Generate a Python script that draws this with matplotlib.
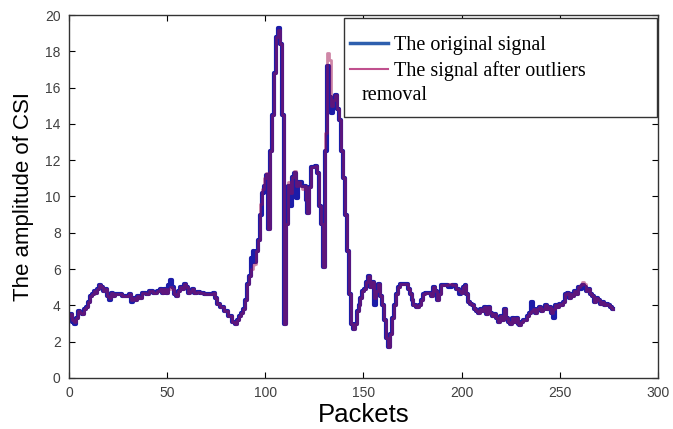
import matplotlib
matplotlib.use("Agg")
import matplotlib.pyplot as plt
from matplotlib.patches import Rectangle

packets = [0, 1, 2, 3, 4, 5, 6, 7, 8, 9, 10, 11, 12, 13, 14, 15, 16, 17, 18, 19,
           20, 21, 22, 23, 24, 26, 28, 30, 31, 32, 33, 34, 35, 36, 38, 40, 42, 44,
           46, 47, 48, 49, 50, 51, 52, 53, 54, 55, 56, 57, 58, 59, 60, 61, 62, 63,
           64, 66, 68, 70, 72, 73, 74, 75, 76, 78, 80, 82, 84, 85, 86, 87, 88, 89,
           90, 91, 92, 93, 94, 95, 96, 97, 98, 99, 100, 101, 102, 103, 104, 105,
           106, 107, 108, 109, 110, 111, 112, 113, 114, 115, 116, 117, 118, 119,
           120, 121, 122, 123, 124, 125, 126, 127, 128, 129, 130, 131, 132, 133,
           134, 135, 136, 137, 138, 139, 140, 141, 142, 143, 144, 145, 146, 147,
           148, 149, 150, 151, 152, 153, 154, 155, 156, 157, 158, 159, 160, 161,
           162, 163, 164, 165, 166, 167, 168, 169, 170, 172, 173, 174, 175, 176,
           178, 179, 180, 181, 182, 184, 185, 186, 187, 188, 189, 190, 192, 194,
           196, 198, 199, 200, 201, 202, 203, 204, 205, 206, 207, 208, 209, 210,
           211, 212, 213, 214, 215, 216, 217, 218, 219, 220, 221, 222, 223, 224,
           225, 226, 227, 228, 229, 230, 231, 232, 233, 234, 235, 236, 237, 238,
           239, 240, 241, 242, 243, 244, 245, 246, 247, 248, 249, 250, 251, 252,
           253, 254, 255, 256, 257, 258, 259, 260, 261, 262, 263, 264, 265, 266,
           267, 268, 269, 270, 271, 272, 273, 274, 275, 276, 277]

original = [3.4, 3.5, 3.1, 3.0, 3.3, 3.7, 3.6, 3.5, 3.8, 3.9, 4.2, 4.5, 4.6, 4.8, 4.7,
            4.9, 5.1, 5.0, 4.8, 4.9, 4.5, 4.3, 4.7, 4.5, 4.6, 4.6, 4.5, 4.5, 4.6, 4.2,
            4.4, 4.3, 4.5, 4.4, 4.7, 4.6, 4.8, 4.7, 4.8, 4.9, 4.7, 4.9, 4.7, 5.1, 5.4,
            5.0, 4.6, 4.5, 4.8, 5.0, 4.9, 5.2, 5.0, 4.7, 4.8, 4.9, 4.7, 4.75, 4.7, 4.6,
            4.65, 4.6, 4.7, 4.4, 4.1, 3.9, 3.7, 3.4, 3.1, 3.0, 3.2, 3.4, 3.6, 3.8, 4.3,
            5.2, 5.6, 6.6, 7.0, 6.4, 7.0, 7.6, 9.0, 10.2, 10.6, 11.2, 8.2, 12.5, 14.5,
            16.8, 18.8, 19.3, 18.4, 14.5, 3.0, 8.5, 10.6, 9.5, 11.1, 11.3, 9.9, 10.8,
            10.8, 10.6, 10.6, 9.8, 9.1, 10.5, 11.6, 11.6, 11.7, 11.3, 9.5, 8.5, 6.1,
            12.5, 17.2, 15.5, 14.6, 15.3, 15.6, 14.8, 14.2, 12.5, 11.0, 9.0, 7.0, 4.6,
            3.0, 2.7, 3.0, 3.7, 4.0, 4.4, 4.8, 4.9, 5.3, 5.6, 5.0, 5.3, 4.0, 4.8, 5.2,
            4.5, 4.0, 3.2, 2.2, 1.7, 2.4, 3.3, 4.0, 4.6, 5.0, 5.2, 5.2, 5.2, 4.9, 4.6,
            4.3, 4.0, 3.9, 4.0, 4.3, 4.6, 4.7, 4.7, 4.5, 5.0, 4.8, 4.3, 4.6, 5.1, 5.1,
            5.0, 5.1, 4.9, 4.6, 4.7, 5.0, 5.1, 4.6, 4.2, 4.1, 4.0, 3.8, 3.7, 3.6, 3.8,
            3.7, 3.9, 3.5, 3.9, 3.6, 3.4, 3.5, 3.3, 3.1, 3.4, 3.2, 3.8, 3.3, 3.1, 3.0,
            3.3, 3.1, 3.3, 3.0, 2.9, 3.1, 3.2, 3.2, 3.4, 3.6, 4.2, 3.8, 3.6, 3.8, 3.9,
            3.7, 3.8, 4.0, 3.8, 3.9, 3.6, 3.3, 4.0, 3.9, 4.1, 4.0, 4.2, 4.6, 4.7, 4.4,
            4.6, 4.5, 4.8, 4.6, 5.0, 4.9, 5.1, 5.0, 4.8, 4.9, 4.6, 4.5, 4.2, 4.4, 4.3,
            4.1, 4.2, 4.0, 4.1, 4.0, 3.9, 3.8]

filtered = [3.4, 3.5, 3.2, 3.1, 3.3, 3.7, 3.6, 3.5, 3.8, 3.9, 4.2, 4.5, 4.6, 4.8, 4.7,
            4.9, 5.1, 5.0, 4.8, 4.9, 4.5, 4.4, 4.7, 4.5, 4.6, 4.6, 4.5, 4.5, 4.6, 4.3,
            4.4, 4.3, 4.5, 4.4, 4.7, 4.6, 4.8, 4.7, 4.8, 4.9, 4.7, 4.9, 4.7, 4.9, 5.0,
            4.9, 4.6, 4.5, 4.8, 5.0, 4.9, 5.2, 5.0, 4.7, 4.8, 4.9, 4.7, 4.75, 4.7, 4.6,
            4.65, 4.6, 4.7, 4.4, 4.1, 3.9, 3.7, 3.4, 3.1, 3.0, 3.2, 3.4, 3.6, 3.8, 4.3,
            5.2, 5.6, 6.0, 6.2, 6.3, 7.0, 7.6, 9.6, 10.4, 11.0, 11.3, 8.2, 12.5, 14.5,
            16.8, 18.8, 19.2, 18.4, 14.5, 3.0, 8.5, 10.8, 10.2, 11.1, 11.4, 10.6, 10.8,
            10.6, 10.4, 10.6, 9.8, 9.1, 10.5, 11.6, 11.6, 11.7, 11.3, 9.5, 8.5, 6.1,
            13.5, 17.9, 17.5, 15.0, 15.3, 15.6, 14.8, 14.2, 12.5, 11.0, 9.0, 7.0, 4.6,
            3.0, 2.7, 3.0, 3.7, 4.0, 4.4, 4.8, 4.9, 5.3, 5.6, 5.0, 5.3, 4.4, 4.8, 5.2,
            4.5, 4.0, 3.2, 2.2, 1.7, 2.4, 3.3, 4.0, 4.6, 5.0, 5.2, 5.2, 5.2, 4.9, 4.6,
            4.3, 4.0, 3.9, 4.0, 4.3, 4.6, 4.7, 4.7, 4.5, 5.0, 4.8, 4.3, 4.6, 5.1, 5.1,
            5.2, 5.1, 4.9, 4.8, 4.7, 5.0, 5.1, 4.6, 4.2, 4.1, 4.0, 3.8, 3.7, 3.6, 3.8,
            3.7, 3.9, 3.5, 3.9, 3.6, 3.4, 3.5, 3.3, 3.1, 3.4, 3.2, 3.8, 3.3, 3.1, 3.0,
            3.3, 3.1, 3.3, 3.0, 2.9, 3.1, 3.2, 3.2, 3.4, 3.6, 3.7, 3.8, 3.6, 3.8, 3.9,
            3.7, 3.8, 4.0, 3.8, 3.9, 3.6, 3.8, 4.0, 3.9, 4.1, 4.0, 4.2, 4.6, 4.7, 4.4,
            4.6, 4.5, 4.8, 4.6, 5.0, 5.1, 5.3, 5.2, 4.8, 4.9, 4.6, 4.5, 4.2, 4.4, 4.3,
            4.1, 4.2, 4.0, 4.1, 4.0, 3.9, 3.8]

fig = plt.figure(figsize=(6.73, 4.29), dpi=100)
ax = fig.add_axes([0.1025, 0.119, 0.875, 0.846])

ax.plot(packets, original, color='#1c1ca8', linewidth=3.0, drawstyle='steps-mid',
        label='The original signal')
ax.plot(packets, filtered, color='#a01050', linewidth=2.0, alpha=0.5,
        drawstyle='steps-mid', label='The signal after outliers')

# legend box drawn separately so the wrapped "removal" line fits inside it
box = Rectangle((0.467, 0.719), 0.531, 0.273, transform=ax.transAxes,
                facecolor='white', edgecolor='#333333', linewidth=1.0, zorder=4)
ax.add_patch(box)
leg = ax.legend(loc='upper left', bbox_to_anchor=(0.467, 0.958),
                borderaxespad=0, frameon=False, handlelength=1.9, handletextpad=0.3,
                labelspacing=0.3, borderpad=0.3,
                prop={'family': 'Liberation Serif', 'size': 14.5})
leg.legend_handles[0].set_color('#2e5fae')
leg.legend_handles[0].set_linewidth(2.5)
leg.legend_handles[1].set_color('#c0508e')
leg.legend_handles[1].set_alpha(1)
leg.legend_handles[1].set_linewidth(1.5)
ax.text(0.4975, 0.778, 'removal', transform=ax.transAxes, family='Liberation Serif',
        fontsize=14.5, va='center', ha='left', zorder=10)

ax.set_xlim(0, 300)
ax.set_ylim(0, 20)
ax.set_xticks(range(0, 301, 50))
ax.set_yticks(range(0, 21, 2))
ax.tick_params(direction='in', length=4, top=True, right=True, labelsize=10,
               labelcolor='#404040', pad=6)
for t in ax.get_xticklabels() + ax.get_yticklabels():
    t.set_family('Liberation Sans')
for s in ax.spines.values():
    s.set_color('#333333')
    s.set_linewidth(1.0)

ax.set_xlabel('Packets', family='Liberation Sans', fontsize=18.5, labelpad=2)
ax.set_ylabel('The amplitude of CSI', family='Liberation Sans', fontsize=16, labelpad=8)

fig.savefig('out.png', dpi=100)
